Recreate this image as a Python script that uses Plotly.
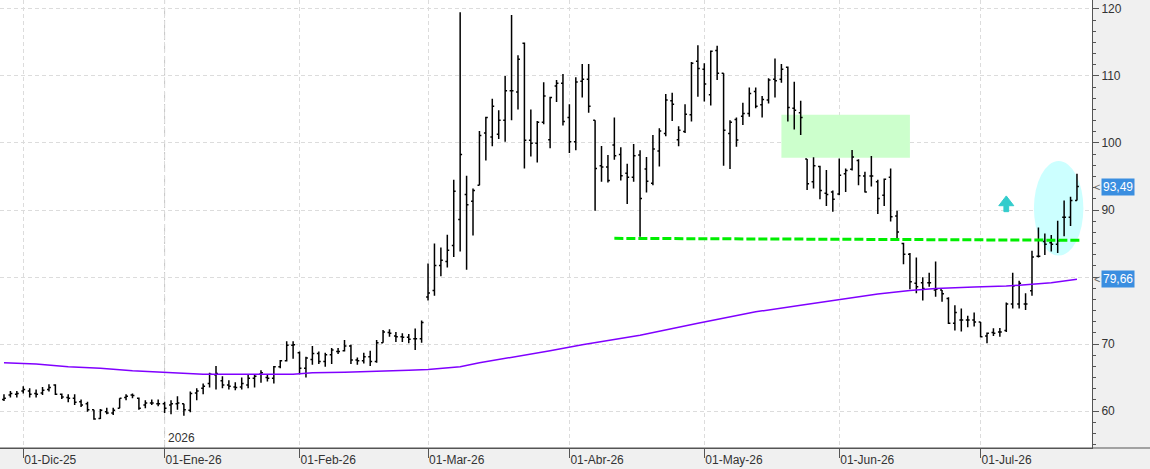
import pandas as pd
import plotly.graph_objects as go

# ---------------- data ----------------
holidays = ["2025-12-25", "2026-01-01", "2026-04-03"]
trade_days = pd.bdate_range("2025-11-26", "2026-07-22", freq="C", holidays=holidays)
dates = [d.strftime("%Y-%m-%d") for d in trade_days]

opens = [61.7, 62.4, 62.5, 63.0, 63.0, 62.6, 62.7, 63.2, 63.9, 62.5,
         62.0, 61.9, 61.4, 61.1, 60.2, 58.9, 59.9, 59.7, 60.4, 62.0,
         62.4, 61.9, 60.9, 61.2, 61.1, 61.1, 60.9, 61.1, 61.1, 60.1,
         62.7, 63.4, 64.1, 65.4, 64.5, 63.9, 63.6, 63.6, 63.9, 64.9,
         65.5, 65.0, 64.9, 66.6, 67.5, 69.8, 68.7, 66.4, 67.7, 68.6,
         67.4, 68.4, 68.9, 69.0, 69.7, 67.6, 67.5, 68.1, 67.4, 70.2,
         71.7, 71.2, 71.1, 71.0, 70.8, 70.8, 77.0, 78.0, 81.7, 82.3,
         84.7, 88.6, 92.3, 91.3, 93.7, 101.5, 100.9, 101.3, 103.4, 107.8,
         107.6, 114.9, 100.4, 99.95, 103.1, 100.5, 108.5, 108.9, 103.8, 100.2,
         109.2, 109.5, 103.4, 96.6, 96.4, 99.7, 98.3, 95.5, 94.9, 98.2,
         96.1, 94.0, 98.8, 101.4, 106.3, 100.5, 101.7, 104.2, 112.2, 111.0,
         107.2, 113.8, 110.4, 101.4, 103.5, 104.0, 104.4, 107.7, 105.7, 106.4,
         109.5, 109.5, 111.3, 105.2, 104.5, 97.6, 94.2, 96.5, 92.5, 92.7,
         92.4, 95.4, 96.07, 97.4, 95.07, 95.07, 94.2, 92.2, 94.9, 89.1,
         85.0, 83.4, 79.05, 79.15, 79.15, 78.06, 78.06, 76.8, 73.1, 73.6,
         73.6, 73.6, 73.3, 71.2, 71.7, 71.8, 72.0, 75.97, 75.97, 75.97,
         77.96, 83.1, 85.3, 85.1, 84.9, 88.9, 88.9, 91.4]
highs = [62.5, 63.0, 63.0, 63.7, 63.4, 63.2, 63.6, 64.0, 64.0, 62.6,
         62.5, 62.5, 61.7, 61.4, 60.2, 60.3, 60.5, 60.5, 61.9, 62.5,
         62.6, 62.0, 61.6, 61.7, 61.7, 61.4, 61.6, 62.2, 61.1, 62.9,
         63.4, 64.1, 65.7, 66.7, 65.2, 64.6, 64.3, 65.0, 65.4, 65.4,
         66.1, 65.5, 66.7, 67.6, 70.4, 70.4, 68.9, 68.1, 69.7, 68.9,
         68.7, 69.4, 69.4, 70.6, 69.9, 68.0, 68.7, 69.0, 70.6, 72.1,
         72.2, 71.8, 71.6, 71.5, 72.3, 73.5, 82.0, 85.0, 84.4, 86.3,
         94.5, 119.5, 95.1, 93.2, 101.8, 103.9, 106.6, 104.9, 110.0, 119.1,
         113.1, 115.0, 105.0, 103.3, 109.05, 106.9, 109.4, 110.3, 105.8, 109.8,
         111.8, 111.8, 103.4, 99.55, 98.2, 103.8, 99.35, 96.9, 99.85, 98.9,
         97.9, 101.2, 102.2, 107.3, 107.5, 102.5, 105.8, 112.1, 114.6, 111.9,
         113.8, 114.5, 110.4, 103.4, 103.8, 106.0, 108.3, 108.3, 107.0, 109.65,
         112.6, 111.8, 111.4, 109.15, 106.3, 97.6, 97.86, 96.6, 95.97, 92.9,
         97.7, 96.2, 98.96, 97.56, 95.7, 98.06, 94.5, 94.7, 96.2, 89.9,
         85.1, 83.6, 82.9, 79.95, 80.65, 82.3, 78.06, 76.96, 75.8, 75.3,
         74.2, 74.7, 73.3, 71.7, 72.34, 72.4, 76.2, 80.65, 79.45, 77.56,
         83.9, 87.4, 86.5, 86.27, 88.4, 91.4, 91.99, 95.4]
lows = [61.5, 62.0, 62.0, 62.6, 62.0, 62.0, 62.4, 62.9, 62.4, 61.8,
        61.3, 60.9, 60.6, 59.9, 58.7, 58.8, 59.5, 59.4, 60.4, 61.6,
        61.9, 60.2, 60.4, 60.9, 60.7, 59.7, 59.5, 60.2, 59.3, 59.8,
        61.6, 62.5, 63.5, 63.2, 63.4, 63.2, 63.1, 63.2, 63.4, 63.5,
        64.2, 64.4, 64.1, 66.4, 67.4, 67.8, 65.5, 65.0, 66.9, 67.0,
        66.6, 67.0, 68.5, 68.9, 67.0, 66.9, 67.1, 66.7, 67.2, 70.2,
        71.1, 70.3, 70.3, 70.1, 69.1, 70.2, 76.5, 77.2, 80.1, 81.4,
        83.0, 83.8, 81.1, 86.2, 93.7, 97.4, 99.5, 100.6, 100.2, 103.4,
        105.0, 96.2, 98.0, 97.1, 102.8, 99.2, 106.1, 102.6, 98.5, 98.9,
        106.8, 104.5, 89.9, 94.2, 94.1, 97.5, 94.4, 90.9, 94.2, 86.0,
        92.6, 93.7, 96.5, 101.0, 103.3, 99.5, 101.5, 103.2, 106.9, 106.2,
        105.6, 109.4, 96.6, 96.1, 99.45, 102.7, 103.9, 105.2, 103.8, 105.9,
        106.8, 109.0, 103.2, 102.0, 101.2, 93.0, 93.2, 91.6, 90.6, 89.75,
        92.2, 92.7, 95.9, 93.7, 92.6, 93.5, 89.4, 90.6, 88.3, 85.8,
        81.9, 78.16, 77.56, 76.5, 78.56, 77.06, 76.3, 73.0, 72.0, 71.85,
        72.5, 72.6, 71.0, 70.1, 71.2, 71.1, 71.8, 75.3, 75.3, 75.07,
        77.2, 82.9, 83.3, 83.8, 83.6, 86.1, 87.6, 91.4]
closes = [61.9, 62.6, 62.6, 63.2, 62.5, 62.5, 63.1, 63.5, 62.5, 62.1,
          61.9, 61.3, 60.9, 60.2, 58.8, 60.1, 59.7, 60.1, 61.9, 62.2,
          62.3, 60.4, 61.2, 61.2, 61.1, 60.4, 61.1, 61.2, 60.2, 62.6,
          63.0, 63.7, 65.5, 65.6, 63.9, 63.7, 63.5, 64.1, 64.9, 65.2,
          65.7, 64.9, 66.6, 67.5, 69.8, 69.9, 66.4, 67.9, 68.6, 67.4,
          68.4, 69.1, 68.9, 69.7, 67.6, 67.5, 68.1, 67.4, 70.2, 71.8,
          71.6, 71.1, 71.0, 70.7, 70.8, 73.2, 77.6, 81.7, 82.5, 84.0,
          92.8, 98.3, 90.8, 92.9, 101.1, 103.8, 105.5, 103.4, 107.8, 107.8,
          112.5, 100.4, 99.95, 103.1, 107.0, 106.8, 108.9, 103.2, 100.2, 109.1,
          109.5, 105.5, 96.2, 96.4, 94.4, 98.1, 95.1, 94.9, 98.1, 91.7,
          94.3, 99.1, 101.8, 106.4, 105.8, 101.9, 104.3, 111.9, 111.1, 108.8,
          113.7, 110.4, 101.9, 103.1, 100.45, 104.4, 107.4, 105.5, 106.5, 109.4,
          109.3, 111.0, 105.3, 104.9, 103.8, 93.9, 96.6, 92.9, 92.3, 91.6,
          95.2, 95.9, 97.9, 95.1, 92.7, 95.07, 91.7, 94.6, 89.0, 86.7,
          83.4, 79.3, 78.56, 78.3, 79.15, 78.16, 77.5, 73.1, 74.7, 73.6,
          73.6, 73.3, 71.1, 71.6, 71.6, 71.8, 75.97, 78.66, 79.05, 75.97,
          83.0, 83.1, 84.9, 84.9, 85.4, 88.9, 91.4, 93.49]

ma_dates = ["2025-11-26", "2025-12-03", "2025-12-10", "2025-12-17", "2025-12-24",
            "2025-12-31", "2026-01-07", "2026-01-12", "2026-01-30", "2026-02-04",
            "2026-02-11", "2026-02-18", "2026-02-25", "2026-03-02", "2026-03-04",
            "2026-03-09", "2026-03-12", "2026-03-19", "2026-03-27", "2026-04-06",
            "2026-04-17", "2026-04-30", "2026-05-13", "2026-05-22", "2026-06-02",
            "2026-06-09", "2026-06-16", "2026-06-22", "2026-06-30", "2026-07-07",
            "2026-07-13", "2026-07-16", "2026-07-22"]
ma_values = [67.2, 67.0, 66.6, 66.4, 66.0,
             65.8, 65.6, 65.5, 65.5, 65.7,
             65.8, 65.9, 66.07, 66.2, 66.4,
             66.6, 67.2, 68.0, 69.0, 69.9,
             71.3, 73.1, 74.8, 75.8, 76.8,
             77.46, 78.0, 78.3, 78.5, 78.64,
             78.9, 79.15, 79.66]

month_names = ["Ene", "Feb", "Mar", "Abr", "May", "Jun", "Jul", "Ago", "Sep", "Oct", "Nov", "Dic"]
support_level = [85.77, 85.48]          # dashed green support line (start, end)
zone_low, zone_high = 97.8, 104.2        # green resistance zone
last_price = closes[-1]
last_ma = ma_values[-1]

# ---------------- month ticks (first trading day of each month) ----------------
tick_vals, tick_text = [], []
prev_month = None
for d in trade_days:
    if prev_month is not None and d.month != prev_month:
        tick_vals.append(d.strftime("%Y-%m-%d"))
        tick_text.append("01-%s-%s" % (month_names[d.month - 1], d.strftime("%y")))
    prev_month = d.month

pos = {d: i for i, d in enumerate(dates)}
year_pos = pos["2026-01-02"]

fig = go.Figure()

fig.add_trace(go.Ohlc(
    x=dates, open=opens, high=highs, low=lows, close=closes,
    increasing=dict(line=dict(color="black", width=1.5)),
    decreasing=dict(line=dict(color="black", width=1.5)),
    tickwidth=0.3, hoverinfo="skip"))

fig.add_trace(go.Scatter(
    x=ma_dates, y=ma_values, mode="lines",
    line=dict(color="#8000ff", width=1.5), hoverinfo="skip"))

shapes = []
# resistance zone
shapes.append(dict(type="rect", xref="x", yref="y", layer="between",
                   x0=pos["2026-05-19"], x1=pos["2026-06-16"],
                   y0=zone_low, y1=zone_high,
                   fillcolor="#ccffcc", line=dict(width=0)))
# highlight ellipse
shapes.append(dict(type="circle", xref="x", yref="y", layer="between",
                   x0=pos["2026-07-13"] + 0.3, x1=pos["2026-07-22"] + 1.0,
                   y0=83.2, y1=97.3,
                   fillcolor="#ccffff", line=dict(width=0)))
# support line
shapes.append(dict(type="line", xref="x", yref="y", layer="above",
                   x0=pos["2026-04-13"], x1=pos["2026-07-22"] + 0.8,
                   y0=support_level[0], y1=support_level[1],
                   line=dict(color="#00ee00", width=3, dash="9px,3px")))
# year separator
shapes.append(dict(type="line", xref="x", yref="paper", layer="between",
                   x0=year_pos, x1=year_pos, y0=0, y1=1,
                   line=dict(color="#c4c4c4", width=1, dash="8px,4px")))
# bottom axis line spanning under the price scale
shapes.append(dict(type="line", xref="paper", yref="paper",
                   x0=0, x1=1150 / 1092, y0=0, y1=0,
                   line=dict(color="#555555", width=1)))
# up arrow
cx = pos["2026-07-07"]
hw, sw = 1.17, 0.37
yt, yb, ys = 92.1, 90.64, 89.75
path = ("M {a},{yb} L {cx},{yt} L {b},{yb} L {c},{yb} L {c},{ys} L {d},{ys} L {d},{yb} Z"
        .format(a=cx - hw, b=cx + hw, c=cx + sw, d=cx - sw, cx=cx, yt=yt, yb=yb, ys=ys))
shapes.append(dict(type="path", xref="x", yref="y", layer="above", path=path,
                   fillcolor="#33cccc", line=dict(color="#33cccc", width=1)))

annotations = [
    dict(xref="paper", yref="y", x=1, y=last_price, xanchor="left", xshift=9,
         text="93,49", showarrow=False, bgcolor="#3a8ee0", borderpad=1,
         font=dict(color="white", size=12)),
    dict(xref="paper", yref="y", x=1, y=last_price, xanchor="left", xshift=0,
         text="<", showarrow=False, font=dict(color="#666666", size=11)),
    dict(xref="paper", yref="y", x=1, y=last_ma, xanchor="left", xshift=9,
         text="79,66", showarrow=False, bgcolor="#3a8ee0", borderpad=1,
         font=dict(color="white", size=12)),
    dict(xref="paper", yref="y", x=1, y=last_ma, xanchor="left", xshift=0,
         text="<", showarrow=False, font=dict(color="#666666", size=11)),
    dict(xref="x", yref="paper", x=year_pos, y=0, xanchor="left", yanchor="bottom",
         xshift=1, yshift=1, text="2026", showarrow=False,
         font=dict(color="#333333", size=12)),
]

fig.update_layout(
    width=1150, height=469,
    margin=dict(l=0, r=58, t=0, b=21),
    paper_bgcolor="#f0f0f0", plot_bgcolor="white",
    showlegend=False,
    font=dict(family="Liberation Sans, Arial, sans-serif", size=12, color="#333333"),
    shapes=shapes, annotations=annotations,
    xaxis=dict(
        type="category", categoryorder="array", categoryarray=dates,
        range=[-0.62, 169.34],
        tickmode="array", tickvals=tick_vals, ticktext=tick_text,
        ticks="outside", ticklen=9, tickcolor="#555555",
        ticklabelposition="outside right", ticklabelstandoff=1,
        showline=True, linecolor="#555555", linewidth=1,
        showgrid=True, gridcolor="#dcdcdc", griddash="4px,3px", gridwidth=1,
        rangeslider=dict(visible=False), zeroline=False, fixedrange=True),
    yaxis=dict(
        side="right", range=[54.48, 121.34], dtick=10, tick0=0,
        ticks="outside", ticklen=6, tickcolor="#555555",
        showline=True, linecolor="#555555", linewidth=1,
        showgrid=True, gridcolor="#dcdcdc", griddash="4px,3px", gridwidth=1,
        minor=dict(dtick=10 / 6, tick0=0, ticks="outside", ticklen=3,
                   tickcolor="#555555", showgrid=False),
        zeroline=False, fixedrange=True),
)

fig.write_html("out.html")
